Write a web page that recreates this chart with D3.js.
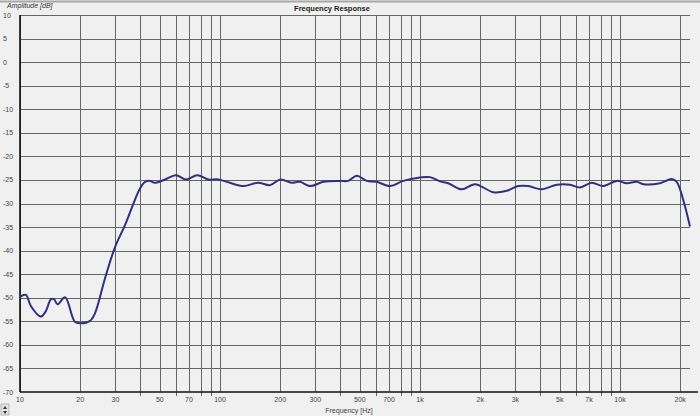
<!DOCTYPE html>
<html>
<head>
<meta charset="utf-8">
<script src="https://cdn.jsdelivr.net/npm/d3@7"></script>
<style>
  html, body { margin: 0; padding: 0; background: #f0f0f0; }
  svg { display: block; font-family: "Liberation Sans", Arial, sans-serif; }
</style>
</head>
<body>
<svg id="chart" width="700" height="416"></svg>
<script>
var freqHz = [10, 10.7, 11.35, 12.7, 13.4, 14.3, 14.8, 15.4, 16.8, 18.8, 20, 22.4, 23.7, 26.6, 29.9, 33.5,
  39.8, 42.2, 44.7, 47.3, 53.1, 60.3, 67.6, 77, 87.4, 98.1, 112, 131, 155, 178, 200, 228, 251, 282, 329,
  398, 438, 483, 541, 607, 708, 825, 1000, 1122, 1259, 1385, 1616, 1884, 2326, 2714, 3101, 3480, 4059,
  4827, 5623, 6310, 7220, 8250, 9627, 10803, 12120, 13080, 15849, 18140, 19210, 20730, 22387];
var amplitudeDb = [-49.8, -49.4, -51.8, -54.0, -53.0, -50.3, -50.3, -51.4, -49.9, -55.1, -55.4, -54.9, -53.3, -45.9, -39.2, -34.6,
  -26.8, -25.4, -25.2, -25.6, -24.9, -24.0, -24.9, -24.0, -24.9, -24.9, -25.6, -26.3, -25.6, -26.1, -24.9, -25.6, -25.4, -26.3, -25.4,
  -25.2, -25.2, -24.1, -25.2, -25.4, -26.3, -25.2, -24.5, -24.4, -25.3, -25.7, -27.0, -25.9, -27.6, -27.3, -26.3, -26.3, -27.0,
  -26.0, -26.0, -26.6, -25.6, -26.3, -25.2, -25.7, -25.4, -25.9, -25.7, -24.8, -25.4, -29.3, -34.9];

var gridFreqs = [10, 20, 30, 40, 50, 60, 70, 80, 90, 100, 200, 300, 400, 500, 600, 700, 800, 900,
  1000, 2000, 3000, 4000, 5000, 6000, 7000, 8000, 9000, 10000, 20000];
var labelFreqs = [10, 20, 30, 50, 70, 100, 200, 300, 500, 700, 1000, 2000, 3000, 5000, 7000, 10000, 20000];
var freqLabels = ["10", "20", "30", "50", "70", "100", "200", "300", "500", "700", "1k", "2k", "3k", "5k", "7k", "10k", "20k"];
var dbTicks = [10, 5, 0, -5, -10, -15, -20, -25, -30, -35, -40, -45, -50, -55, -60, -65, -70];

var svg = d3.select('#chart');

// plot box (don't call these top/left: window.top is reserved)
var pL = 20, pR = 690, pT = 15, pB = 392;

var x = d3.scaleLog().domain([10, 22387]).range([pL, pR]);
var y = d3.scaleLinear().domain([-70, 10]).range([pB, pT]);

// panel border at the top
svg.append('line')
  .attr('x1', 0).attr('x2', 700).attr('y1', 1.5).attr('y2', 1.5)
  .style('stroke', '#a8a8a8').style('stroke-width', 2);

// horizontal grid
svg.append('g').selectAll('line')
  .data(dbTicks.filter(function(d) { return d > -70; }))
  .enter().append('line')
  .attr('x1', pL).attr('x2', pR)
  .attr('y1', function(d) { return Math.round(y(d)) + 0.5; })
  .attr('y2', function(d) { return Math.round(y(d)) + 0.5; })
  .style('stroke', '#666').style('stroke-width', 1);

// vertical grid, unlabelled ones poke below the axis
svg.append('g').selectAll('line')
  .data(gridFreqs)
  .enter().append('line')
  .attr('x1', function(d) { return Math.round(x(d)) + 0.5; })
  .attr('x2', function(d) { return Math.round(x(d)) + 0.5; })
  .attr('y1', pT)
  .attr('y2', function(d) { return labelFreqs.indexOf(d) < 0 ? pB + 4 : pB; })
  .style('stroke', '#666').style('stroke-width', 1);

// axes
svg.append('line')
  .attr('x1', pL).attr('x2', 698).attr('y1', pB).attr('y2', pB)
  .style('stroke', '#111').style('stroke-width', 1.6);
svg.append('line')
  .attr('x1', pL).attr('x2', pL).attr('y1', pT).attr('y2', pB)
  .style('stroke', '#111').style('stroke-width', 1.6);

// y tick labels
svg.append('g').selectAll('text')
  .data(dbTicks)
  .enter().append('text')
  .attr('x', 3)
  .attr('y', function(d) { return y(d) + 2.5; })
  .style('font-size', '7px')
  .style('fill', '#444')
  .text(function(d) { return d; });

// x tick labels
svg.append('g').selectAll('text')
  .data(labelFreqs)
  .enter().append('text')
  .attr('x', function(d) { return x(d); })
  .attr('y', 402)
  .attr('text-anchor', 'middle')
  .style('font-size', '7px')
  .style('fill', '#444')
  .text(function(d, i) { return freqLabels[i]; });

// titles
svg.append('text')
  .attr('x', 332).attr('y', 11)
  .attr('text-anchor', 'middle')
  .style('font-size', '7.5px')
  .style('font-weight', 'bold')
  .style('fill', '#222')
  .text('Frequency Response');

svg.append('text')
  .attr('x', 7).attr('y', 8)
  .style('font-size', '7px')
  .style('font-style', 'italic')
  .style('fill', '#333')
  .text('Amplitude [dB]');

svg.append('text')
  .attr('x', 349).attr('y', 413)
  .attr('text-anchor', 'middle')
  .style('font-size', '7px')
  .style('fill', '#444')
  .text('Frequency [Hz]');

// little scroll widget bottom-left
var sw = svg.append('g').attr('transform', 'translate(1,404)');
sw.append('rect').attr('width', 8).attr('height', 11)
  .style('fill', '#e4e4e4').style('stroke', '#999').style('stroke-width', 0.6);
sw.append('path').attr('d', 'M2,5 L4,2 L6,5 Z').style('fill', '#333');
sw.append('path').attr('d', 'M2,7 L4,10 L6,7 Z').style('fill', '#333');

// response curve
var pts = freqHz.map(function(f, i) { return [f, amplitudeDb[i]]; });

var line = d3.line()
  .x(function(d) { return x(d[0]); })
  .y(function(d) { return y(d[1]); })
  .curve(d3.curveCatmullRom.alpha(0.5));

svg.append('path')
  .datum(pts)
  .attr('d', line)
  .style('fill', 'none')
  .style('stroke', '#30307e')
  .style('stroke-width', 2)
  .style('stroke-linejoin', 'round');
</script>
</body>
</html>
